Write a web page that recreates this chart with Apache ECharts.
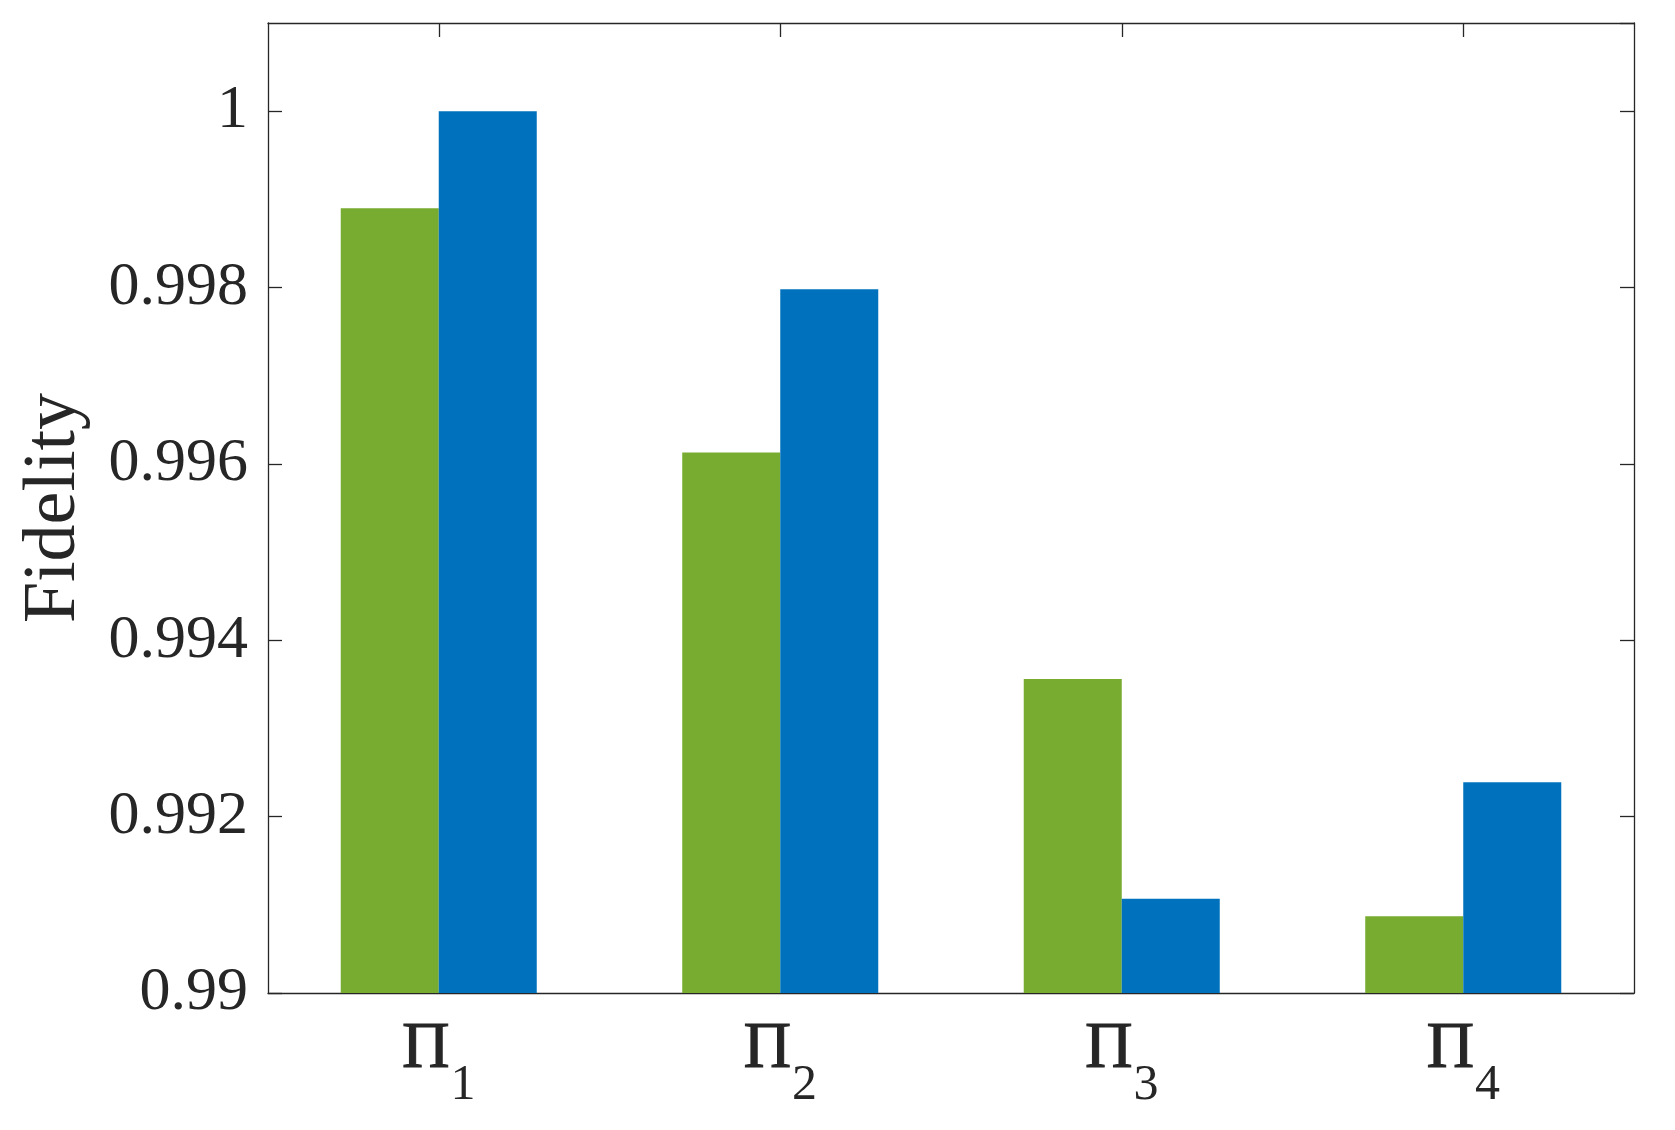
<!DOCTYPE html>
<html>
<head>
<meta charset="utf-8">
<script src="https://cdn.jsdelivr.net/npm/echarts@6/dist/echarts.min.js"></script>
<style>
html,body{margin:0;padding:0;background:#fff;}
#chart{width:1675px;height:1130px;}
</style>
</head>
<body>
<div id="chart"></div>
<script>
const categories = ['1', '2', '3', '4'];
const seriesGreen = [0.99890, 0.99613, 0.99356, 0.99087];
const seriesBlue = [1.00000, 0.99798, 0.99107, 0.99239];
const yTicks = [0.99, 0.992, 0.994, 0.996, 0.998, 1];
const yName = 'Fidelity';

const FONT = '"Liberation Serif", "Times New Roman", serif';
const INK = '#262626';

const chart = echarts.init(document.getElementById('chart'), null, {renderer: 'canvas'});

const yCommon = {
  type: 'value',
  min: yTicks[0],
  max: 1.001,
  interval: 0.002,
  splitLine: {show: false},
  axisLine: {show: true, lineStyle: {color: INK, width: 1.3}},
  axisTick: {show: true, inside: true, length: 14, lineStyle: {color: INK, width: 1.3}}
};

chart.setOption({
  animation: false,
  backgroundColor: '#ffffff',
  grid: {left: 268, right: 41, top: 23, bottom: 137, containLabel: false},
  xAxis: [
    {
      type: 'category',
      data: categories,
      position: 'bottom',
      axisLine: {show: true, onZero: false, lineStyle: {color: INK, width: 1.3}},
      axisTick: {show: false},
      axisLabel: {
        margin: 24,
        formatter: v => '{a|Π}{b|' + v + '}',
        rich: {
          a: {fontFamily: FONT, fontSize: 66, lineHeight: 66, color: INK, verticalAlign: 'top',
              textBorderColor: INK, textBorderWidth: 1},
          b: {fontFamily: FONT, fontSize: 50, lineHeight: 50, color: INK, verticalAlign: 'top', padding: [44, 0, 0, 1]}
        }
      }
    },
    {
      type: 'category',
      data: categories,
      position: 'top',
      axisLine: {show: true, onZero: false, lineStyle: {color: INK, width: 1.3}},
      axisTick: {show: true, inside: true, alignWithLabel: true, length: 14, lineStyle: {color: INK, width: 1.3}},
      axisLabel: {show: false}
    }
  ],
  yAxis: [
    Object.assign({}, yCommon, {
      position: 'left',
      name: yName,
      nameLocation: 'middle',
      nameGap: 176,
      nameRotate: 90,
      nameTextStyle: {fontFamily: FONT, fontSize: 74, color: INK},
      axisLabel: {
        show: true,
        showMaxLabel: false,
        margin: 20,
        fontFamily: FONT,
        fontSize: 62,
        color: INK,
        formatter: v => String(parseFloat(Number(v).toFixed(3)))
      }
    }),
    Object.assign({}, yCommon, {
      position: 'right',
      axisLabel: {show: false}
    })
  ],
  series: [
    {
      type: 'bar',
      data: seriesGreen,
      itemStyle: {color: '#77AC30'},
      barGap: '0%',
      barCategoryGap: '42.6%'
    },
    {
      type: 'bar',
      data: seriesBlue,
      itemStyle: {color: '#0072BD'},
      barGap: '0%',
      barCategoryGap: '42.6%'
    }
  ]
});
</script>
</body>
</html>
